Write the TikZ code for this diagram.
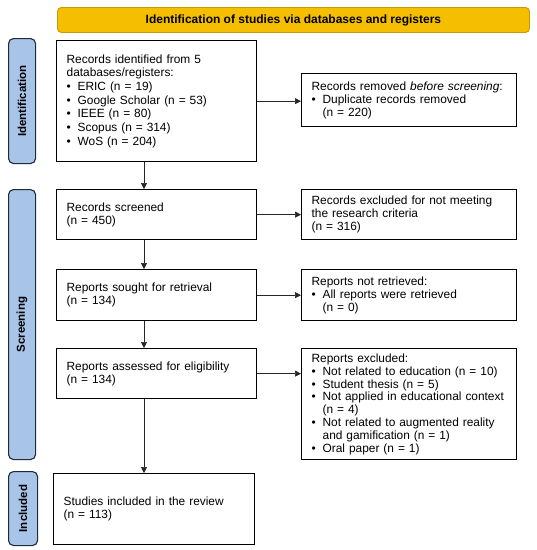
\documentclass[tikz,border=0pt]{standalone}
\usepackage{fontspec}
\setmainfont{Liberation Sans}
\usetikzlibrary{arrows.meta}

\definecolor{headfill}{HTML}{F5BF00}
\definecolor{headline}{HTML}{C49A00}
\definecolor{sidefill}{HTML}{A8C4E8}
\definecolor{sideline}{HTML}{1F2A3A}

\newcommand{\itm}{\makebox[11pt][l]{\textbullet}}
\newcommand{\ind}{\hspace*{11pt}}

\tikzset{
  box/.style={draw, line width=1.3pt, anchor=north west, align=left,
    inner xsep=10pt, font=\fontsize{11.9}{13.2}\selectfont},
  phase/.style={draw=sideline, fill=sidefill, line width=1.1pt, rounded corners=5pt,
    anchor=north west, minimum width=27pt},
  phaselabel/.style={rotate=90, font=\bfseries\fontsize{11.5}{12}\selectfont},
  arr/.style={-{Triangle[length=6pt,width=6pt]}, line width=0.7pt, draw=black!85}
}

\begin{document}
\begin{tikzpicture}[x=1pt,y=-1pt]
\useasboundingbox (0,0) rectangle (537,550);

% header
\node[draw=headline, fill=headfill, line width=0.9pt, rounded corners=4pt,
  anchor=north west, minimum width=472pt, minimum height=25pt,
  font=\bfseries\fontsize{12}{13}\selectfont] (head) at (57,7)
  {Identification of studies via databases and registers};

% side bars
\node[phase, minimum height=125pt] (pid) at (8,38) {};
\node[phaselabel] at (pid.center) {Identification};
\node[phase, minimum height=270pt] (psc) at (8,189) {};
\node[phaselabel] at (psc.center) {Screening};
\node[phase, minimum height=74pt, minimum width=29pt] (pin) at (8,471) {};
\node[phaselabel] at (pin.center) {Included};

% left column
\node[box, text width=180pt, minimum height=121pt,
  font=\fontsize{11.9}{13.7}\selectfont] (ident) at (56,40)
  {Records identified from 5\\databases/registers:\\
   \itm ERIC (n = 19)\\\itm Google Scholar (n = 53)\\\itm IEEE (n = 80)\\
   \itm Scopus (n = 314)\\\itm WoS (n = 204)};
\node[box, text width=180pt, minimum height=50pt] (screen) at (56,189)
  {Records screened\\(n = 450)};
\node[box, text width=180pt, minimum height=51pt] (sought) at (56,269)
  {Reports sought for retrieval\\(n = 134)};
\node[box, text width=180pt, minimum height=50pt] (assess) at (56,348)
  {Reports assessed for eligibility\\(n = 134)};
\node[box, text width=181pt, minimum height=71pt] (incl) at (53,473)
  {Studies included in the review\\(n = 113)};

% right column
\node[box, text width=195pt, minimum height=53pt] (removed) at (301,73)
  {Records removed \textit{before screening}:\\\itm Duplicate records removed\\\ind(n = 220)};
\node[box, text width=195pt, minimum height=50pt] (excl) at (301,189)
  {Records excluded for not meeting\\the research criteria\\(n = 316)};
\node[box, text width=195pt, minimum height=51pt] (notret) at (301,269)
  {Reports not retrieved:\\\itm All reports were retrieved\\\ind(n = 0)};
\node[box, text width=195pt, minimum height=111pt, inner ysep=2pt,
  font=\fontsize{11.9}{12.8}\selectfont] (repex) at (301,348)
  {Reports excluded:\\\itm Not related to education (n = 10)\\\itm Student thesis (n = 5)\\
   \itm Not applied in educational context\\\ind(n = 4)\\
   \itm Not related to augmented reality\\\ind and gamification (n = 1)\\
   \itm Oral paper (n = 1)};

% arrows
\coordinate (ax) at (144,0);
\draw[arr] (ident.south -| ax) -- (screen.north -| ax);
\draw[arr] (screen.south -| ax) -- (sought.north -| ax);
\draw[arr] (sought.south -| ax) -- (assess.north -| ax);
\draw[arr] (assess.south -| ax) -- (incl.north -| ax);

\draw[arr] (ident.east) -- (ident.east -| removed.west);
\draw[arr] (screen.east) -- (screen.east -| excl.west);
\draw[arr] (sought.east) -- (sought.east -| notret.west);
\draw[arr] (assess.east) -- (assess.east -| repex.west);

\end{tikzpicture}
\end{document}
